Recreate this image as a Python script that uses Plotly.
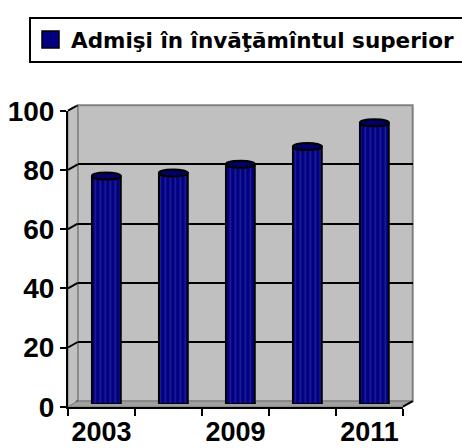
import plotly.graph_objects as go

# ---- data ----
categories = ["2003", "2008", "2009", "2010", "2011"]
values = [77, 78, 81, 87, 95]
tick_labels = ["2003", "", "2009", "", "2011"]
y_ticks = [0, 20, 40, 60, 80, 100]
legend_name = "Admişi în învăţămîntul superior"

W, H = 462, 448

def px(x):
    return x / W

def py(y):
    return 1 - y / H

# planes (pixels): front, mid (bars), back wall
FX0, FX1 = 68.0, 403.0
FY0, FY1 = 406.7, 110.7     # y of value 0 and 100
DX, DY = 9.7, 5.5           # depth offset
BX0, BX1 = FX0 + DX, FX1 + DX
BY0, BY1 = FY0 - DY, FY1 - DY
MX0, MX1 = FX0 + DX / 2, FX1 + DX / 2
MY0, MY1 = FY0 - DY / 2, FY1 - DY / 2
dy_units = DY / (FY0 - FY1) * 100  # depth offset in value units

fig = go.Figure()

fig.add_trace(go.Bar(
    x=categories, y=values, xaxis="x3", yaxis="y3",
    width=0.43, name=legend_name, showlegend=False,
    marker=dict(color="#000080", line=dict(color="black", width=2),
                pattern=dict(shape="|", fgcolor="#3a3ab0", size=5, solidity=0.35,
                             fillmode="overlay")),
    hoverinfo="x+y",
))

shapes = []
# back wall
shapes.append(dict(type="rect", xref="x domain", yref="y domain", x0=0, x1=1, y0=0, y1=1,
                   fillcolor="#C0C0C0", line=dict(color="#808080", width=2), layer="below"))
# side wall
shapes.append(dict(type="path", xref="paper", yref="paper",
                   path=f"M{px(FX0)},{py(FY0)} L{px(FX0)},{py(FY1)} L{px(BX0)},{py(BY1)} L{px(BX0)},{py(BY0)} Z",
                   fillcolor="#C0C0C0", line=dict(color="#808080", width=1), layer="below"))
# floor
shapes.append(dict(type="path", xref="paper", yref="paper",
                   path=f"M{px(FX0)},{py(FY0)} L{px(BX0)},{py(BY0)} L{px(BX1)},{py(BY0)} L{px(FX1)},{py(FY0)} Z",
                   fillcolor="#A0A0A0", line=dict(color="#808080", width=1), layer="below"))
# rounded bottoms of cylinders
for i, v in enumerate(values):
    shapes.append(dict(type="circle", xref="x3", yref="y3", x0=i - 0.215, x1=i + 0.215,
                       y0=-1.2, y1=1.2, fillcolor="#000080",
                       line=dict(color="black", width=2), layer="below"))
# cylinder tops
for i, v in enumerate(values):
    shapes.append(dict(type="circle", xref="x3", yref="y3", x0=i - 0.215, x1=i + 0.215,
                       y0=v - 1.2, y1=v + 1.2, fillcolor="#000066",
                       line=dict(color="black", width=2), layer="above"))
# side-wall gridline diagonals
for t in y_ticks:
    shapes.append(dict(type="line", xref="paper", yref="y", x0=px(FX0), x1=px(BX0),
                       y0=t - dy_units, y1=t, line=dict(color="black", width=2)))
# floor right edge diagonal
shapes.append(dict(type="line", xref="paper", yref="paper", x0=px(FX1), x1=px(BX1),
                   y0=py(FY0), y1=py(BY0), line=dict(color="black", width=2)))
# legend box
shapes.append(dict(type="rect", xref="paper", yref="paper", x0=px(30), x1=px(470),
                   y0=py(62), y1=py(18), line=dict(color="black", width=2), fillcolor="white"))
shapes.append(dict(type="rect", xref="paper", yref="paper", x0=px(42), x1=px(59),
                   y0=py(48), y1=py(31), line=dict(color="black", width=1.5), fillcolor="#000080"))

fig.update_layout(
    width=W, height=H,
    margin=dict(l=0, r=0, t=0, b=0, autoexpand=False),
    paper_bgcolor="white", plot_bgcolor="rgba(0,0,0,0)",
    showlegend=False,
    shapes=shapes,
    annotations=[dict(text=f"<b>{legend_name}</b>", xref="paper", yref="paper",
                      x=px(69), y=py(40), xanchor="left", yanchor="middle", showarrow=False,
                      font=dict(family="DejaVu Sans", size=21.5, color="black"))],
    # back wall axes
    xaxis=dict(domain=[px(BX0), px(BX1)], anchor="y", type="category", range=[-0.5, 4.5],
               showgrid=False, showticklabels=False, ticks="", showline=False, zeroline=False,
               automargin=False),
    yaxis=dict(domain=[py(BY0), py(BY1)], anchor="x", range=[0, 100],
               tickvals=[20, 40, 60, 80], showgrid=True, gridcolor="black", gridwidth=2,
               showticklabels=False, ticks="", showline=False, zeroline=False,
               automargin=False),
    # front axes
    xaxis2=dict(domain=[px(FX0), px(FX1)], anchor="y2", type="category", range=[-0.5, 4.5],
                categoryorder="array", categoryarray=categories,
                tickvals=categories, ticktext=tick_labels, tickson="boundaries", tickangle=0,
                ticks="outside", ticklen=7, tickwidth=2, tickcolor="black",
                showline=True, linecolor="black", linewidth=2, showgrid=False, zeroline=False,
                automargin=False,
                tickfont=dict(family="Liberation Sans", size=27, color="black", weight="bold")),
    yaxis2=dict(domain=[py(FY0), py(FY1)], anchor="x2", range=[0, 100],
                tickvals=y_ticks, ticks="outside", ticklen=6, tickwidth=2, tickcolor="black",
                showline=True, linecolor="black", linewidth=2, showgrid=False, zeroline=False,
                automargin=False,
                tickfont=dict(family="Liberation Sans", size=28, color="black", weight="bold")),
    # mid plane (bars)
    xaxis3=dict(domain=[px(MX0), px(MX1)], anchor="y3", type="category", range=[-0.5, 4.5],
                categoryorder="array", categoryarray=categories,
                visible=False),
    yaxis3=dict(domain=[py(MY0), py(MY1)], anchor="x3", range=[0, 100], visible=False),
)

# dummy trace to activate front axes
fig.add_trace(go.Scatter(x=categories, y=[None] * len(categories), xaxis="x2", yaxis="y2",
                         showlegend=False, hoverinfo="skip"))

fig.write_html("out.html", config={"displayModeBar": False},
               post_script="document.body.style.margin='0';document.body.style.overflow='hidden';")
